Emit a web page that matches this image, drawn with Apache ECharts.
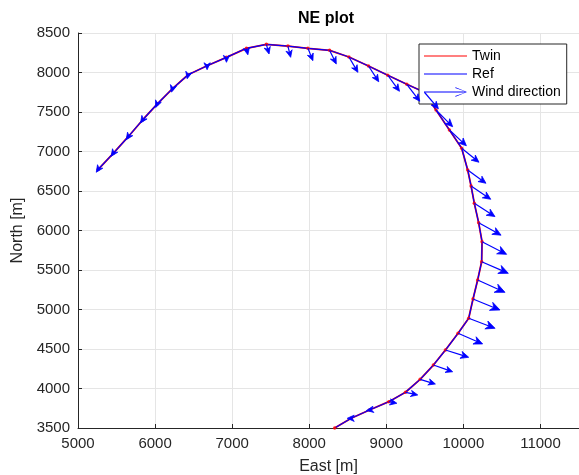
<!DOCTYPE html>
<html lang="en">
<head>
    <meta charset="UTF-8">
    <title>NE plot</title>
    <style>
        * { margin: 0; padding: 0; }
        #main { width: 579px; height: 475px; background: #fff; }
    </style>
    <script src="https://cdn.jsdelivr.net/npm/echarts@6/dist/echarts.min.js"></script>
</head>
<body>
    <div id="main"></div>
    <script>
        // track positions [m]
        var east = [5263, 5457, 5652, 5838, 6027, 6226, 6429, 6675, 6926, 7185,
            7444, 7724, 7983, 8264, 8515, 8769, 9019, 9266, 9495, 9645,
            9819, 9978, 10056, 10100, 10142, 10198, 10242, 10237, 10185, 10125,
            10069, 9931, 9767, 9611, 9439, 9249, 9033, 8782, 8545, 8330];
        var north = [6775, 6977, 7187, 7399, 7601, 7795, 7972, 8086, 8192, 8306,
            8357, 8335, 8306, 8281, 8196, 8082, 7965, 7851, 7750, 7525,
            7272, 7041, 6766, 6563, 6344, 6099, 5858, 5605, 5373, 5133,
            4889, 4699, 4487, 4297, 4116, 3952, 3833, 3728, 3623, 3500];
        // wind arrow components (already scaled, in m)
        var windE = [-26, -26, -26, -26, -19, -13, -13, 0, 0, 19,
            35, 35, 65, 87, 117, 133, 152, 168, 181, 216,
            220, 224, 237, 255, 268, 291, 319, 346, 355, 350,
            342, 319, 302, 250, 198, 159, 104, -39, -52, 0];
        var windN = [-38, -38, -38, -38, -44, -44, -51, -51, -63, -82,
            -123, -143, -156, -173, -194, -199, -203, -215, -209, -211,
            -199, -177, -168, -168, -168, -158, -160, -147, -156, -139,
            -127, -135, -92, -85, -59, -34, -20, -6, 0, 0];

        var chartDom = document.getElementById('main');
        var myChart = echarts.init(chartDom);
        var font = 'Liberation Sans, Arial, Helvetica, sans-serif';
        var axisColor = '#262626';
        var lineIcon = 'path://M0,4.5 L40,4.5 L40,5.5 L0,5.5 Z';

        var track = east.map(function (e, i) { return [e, north[i]]; });
        var arrows = [];
        for (var i = 0; i < east.length; i++) {
            if (windE[i] === 0 && windN[i] === 0) continue;
            arrows.push([east[i], north[i], windE[i], windN[i]]);
        }

        function renderArrow(params, api) {
            var p0 = api.coord([api.value(0), api.value(1)]);
            var p1 = api.coord([api.value(0) + api.value(2), api.value(1) + api.value(3)]);
            var dx = p1[0] - p0[0], dy = p1[1] - p0[1];
            var len = Math.sqrt(dx * dx + dy * dy);
            if (len < 0.3) return null;
            var ux = dx / len, uy = dy / len;
            var head = Math.max(len * 0.33, 7);
            var w = head * 0.45;
            var bx = p1[0] - ux * head, by = p1[1] - uy * head;
            return {
                type: 'group',
                children: [{
                    type: 'line',
                    shape: { x1: p0[0], y1: p0[1], x2: bx + ux * head * 0.3, y2: by + uy * head * 0.3 },
                    style: { stroke: '#0000ff', lineWidth: 1.2 }
                }, {
                    type: 'polygon',
                    shape: {
                        points: [
                            [p1[0], p1[1]],
                            [bx - uy * w, by + ux * w],
                            [bx + ux * head * 0.3, by + uy * head * 0.3],
                            [bx + uy * w, by - ux * w]
                        ]
                    },
                    style: { fill: '#0000ff', stroke: '#0000ff', lineWidth: 0.8 }
                }]
            };
        }

        function plain(v) { return String(v); }

        var option = {
            backgroundColor: '#ffffff',
            animation: false,
            textStyle: { fontFamily: font },
            title: {
                text: 'NE plot',
                left: 298,
                top: 11,
                padding: 0,
                textStyle: { fontSize: 16, fontWeight: 'bold', color: '#000', fontFamily: font }
            },
            grid: { left: 78, right: 0, top: 33, bottom: 47, containLabel: false, outerBoundsMode: 'none' },
            legend: {
                orient: 'vertical',
                left: 419,
                top: 44,
                padding: [5, 6, 5, 5],
                itemGap: 4,
                itemWidth: 43,
                itemHeight: 10,
                backgroundColor: '#ffffff',
                borderColor: '#262626',
                borderWidth: 1,
                borderRadius: 0,
                textStyle: { fontSize: 14, color: '#000', fontFamily: font },
                data: [
                    { name: 'Twin', icon: lineIcon, itemStyle: { color: '#ff0000' } },
                    { name: 'Ref', icon: lineIcon, itemStyle: { color: '#0000ff' } },
                    {
                        name: 'Wind direction',
                        icon: 'path://M0,4.5 L38.5,4.5 L29,1.3 L29.4,0.6 L40,5 L29.4,9.4 L29,8.7 L38.5,5.5 L0,5.5 Z',
                        itemStyle: { color: '#0000ff' }
                    }
                ]
            },
            xAxis: {
                type: 'value',
                min: 5000,
                max: 11500,
                interval: 1000,
                name: 'East [m]',
                nameLocation: 'middle',
                nameGap: 31,
                nameTextStyle: { fontSize: 16, color: axisColor, fontFamily: font },
                axisLine: { show: true, onZero: false, lineStyle: { color: axisColor, width: 1 } },
                axisTick: { show: true, inside: true, length: 4, lineStyle: { color: axisColor } },
                axisLabel: { fontSize: 15, color: axisColor, margin: 8, showMaxLabel: false, formatter: plain, fontFamily: font },
                splitLine: { show: true, lineStyle: { color: '#e5e5e5', width: 1 } }
            },
            yAxis: {
                type: 'value',
                min: 3500,
                max: 8500,
                interval: 500,
                name: 'North [m]',
                nameLocation: 'middle',
                nameGap: 49,
                nameTextStyle: { fontSize: 16, color: axisColor, fontFamily: font },
                axisLine: { show: true, onZero: false, lineStyle: { color: axisColor, width: 1 } },
                axisTick: { show: true, inside: true, length: 4, lineStyle: { color: axisColor } },
                axisLabel: { fontSize: 15, color: axisColor, margin: 8, formatter: plain, fontFamily: font },
                splitLine: { show: true, lineStyle: { color: '#e5e5e5', width: 1 } }
            },
            series: [
                {
                    name: 'Twin',
                    type: 'line',
                    data: track,
                    symbol: 'none',
                    color: '#ff0000',
                    lineStyle: { color: '#ff0000', width: 1.8 },
                    z: 2
                },
                {
                    name: 'Ref',
                    type: 'line',
                    data: track,
                    symbol: 'none',
                    color: '#0000ff',
                    lineStyle: { color: '#0000ff', width: 1.2 },
                    z: 3
                },
                {
                    name: 'Wind direction',
                    type: 'custom',
                    renderItem: renderArrow,
                    data: arrows,
                    color: '#0000ff',
                    clip: true,
                    z: 4
                },
                {
                    type: 'scatter',
                    data: track,
                    symbol: 'circle',
                    symbolSize: 3.5,
                    itemStyle: { color: '#ff0000' },
                    silent: true,
                    z: 3
                }
            ]
        };
        option && myChart.setOption(option);
    </script>
</body>
</html>
